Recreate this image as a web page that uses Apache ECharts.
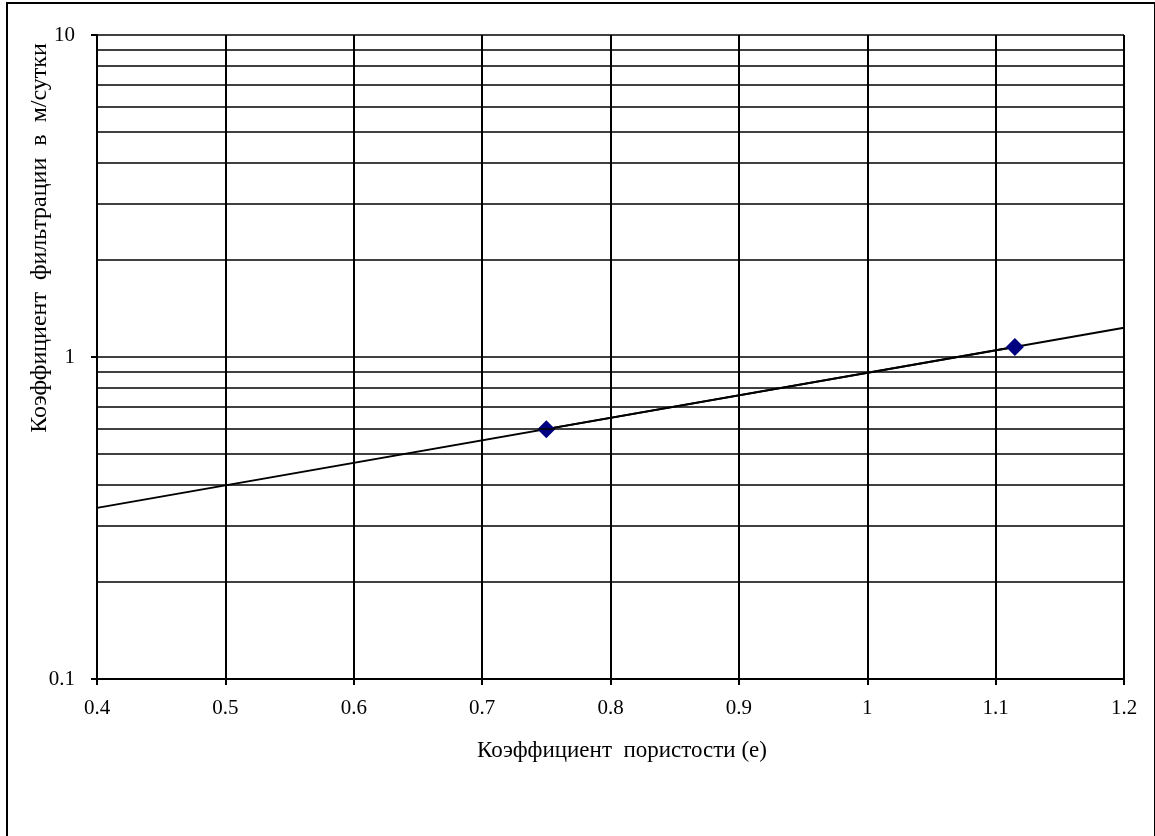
<!DOCTYPE html>
<html>
<head>
<meta charset="utf-8">
<script src="https://cdn.jsdelivr.net/npm/echarts@6/dist/echarts.min.js"></script>
<style>
  html, body { margin: 0; padding: 0; background: #fff; }
  #chart { width: 1155px; height: 836px; }
</style>
</head>
<body>
<div id="chart"></div>
<script>
// точки измерений
var porosity = [0.75, 1.115];
var filtration = [0.597, 1.074];
// линия тренда (экспоненциальная)
var trendX = [0.4, 1.2];
var trendY = [0.34, 1.232];
// горизонтальные линии сетки логарифмической оси
var gridValues = [0.2, 0.3, 0.4, 0.5, 0.6, 0.7, 0.8, 0.9, 2, 3, 4, 5, 6, 7, 8, 9];

var xTitle = 'Коэффициент  пористости (е)';
var yTitle = 'Коэффициент  фильтрации  в  м/сутки';

var chart = echarts.init(document.getElementById('chart'));
var font = 'Liberation Serif';

chart.setOption({
    animation: false,
    backgroundColor: '#fff',
    grid: { left: 97, right: 31, top: 35, bottom: 157 },
    graphic: [
        {
            type: 'rect',
            shape: { x: 7, y: 3, width: 1148, height: 850 },
            style: { fill: 'none', stroke: '#000', lineWidth: 2 },
            silent: true
        },
        {
            type: 'text',
            x: 40, y: 238,
            rotation: Math.PI / 2,
            style: {
                text: yTitle, font: '24px "Liberation Serif"', fill: '#000',
                align: 'center', verticalAlign: 'middle'
            }
        },
        {
            type: 'text',
            x: 622, y: 751,
            style: {
                text: xTitle, font: '23px "Liberation Serif"', fill: '#000',
                align: 'center', verticalAlign: 'middle'
            }
        }
    ],
    xAxis: {
        type: 'value',
        min: 0.4, max: 1.2, interval: 0.1,
        axisLine: { show: true, lineStyle: { color: '#000', width: 2 } },
        axisTick: { show: true, length: 6, lineStyle: { color: '#000', width: 2 } },
        axisLabel: {
            color: '#000', fontFamily: font, fontSize: 21, margin: 19,
            formatter: function (v) { return String(parseFloat(v.toFixed(1))); }
        },
        splitLine: { show: true, lineStyle: { color: '#000', width: 2 } }
    },
    yAxis: {
        type: 'log', logBase: 10,
        min: 0.1, max: 10,
        axisLine: { show: true, lineStyle: { color: '#000', width: 2 } },
        axisTick: { show: true, length: 6, lineStyle: { color: '#000', width: 2 } },
        axisLabel: {
            color: '#000', fontFamily: font, fontSize: 21, margin: 22,
            formatter: function (v) { return String(parseFloat(v.toPrecision(3))); }
        },
        splitLine: { show: true, lineStyle: { color: '#000', width: 1.6 } }
    },
    series: [
        {
            type: 'line',
            data: trendX.map(function (x, i) { return [x, trendY[i]]; }),
            symbol: 'none',
            lineStyle: { color: '#000', width: 2 },
            silent: true,
            markLine: {
                silent: true,
                symbol: 'none',
                label: { show: false },
                lineStyle: { color: '#000', width: 1.6, type: 'solid' },
                data: gridValues.map(function (v) { return { yAxis: v }; })
            },
            z: 3
        },
        {
            type: 'line',
            data: porosity.map(function (x, i) { return [x, filtration[i]]; }),
            symbol: 'diamond',
            symbolSize: 18,
            itemStyle: { color: '#000080' },
            lineStyle: { color: '#000', width: 2 },
            z: 4
        }
    ]
});
</script>
</body>
</html>
